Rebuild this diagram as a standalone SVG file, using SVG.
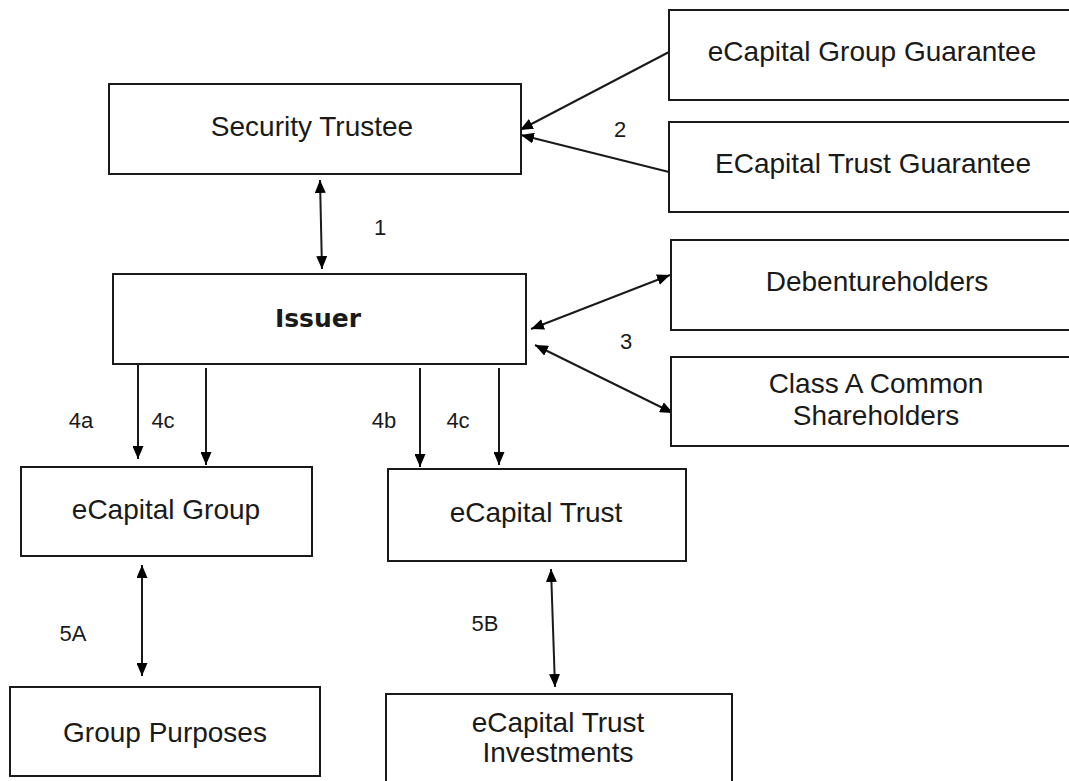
<svg xmlns="http://www.w3.org/2000/svg" width="1069" height="781" viewBox="0 0 1069 781">
<style>
.box{fill:#fff;stroke:#1a1a1a;stroke-width:2}
.t{font-family:"Liberation Sans",Arial,sans-serif;font-size:28px;fill:#1a1a1a;text-anchor:middle}
.b{font-family:"DejaVu Sans",Verdana,sans-serif;font-size:25px;font-weight:bold;fill:#1a1a1a;text-anchor:middle}
.l{font-family:"Liberation Sans",Arial,sans-serif;font-size:22px;fill:#1a1a1a;text-anchor:middle}
.c{stroke:#1a1a1a;stroke-width:2;fill:none}
.e{marker-end:url(#ah)}
.d{marker-start:url(#ah);marker-end:url(#ah)}
</style>
<defs>
<marker id="ah" markerUnits="userSpaceOnUse" markerWidth="13" markerHeight="11" refX="13" refY="5.5" orient="auto-start-reverse" viewBox="0 0 13 11">
<path d="M0,0 L13,5.5 L0,11 z" fill="#000"/>
</marker>
</defs>
<rect width="1069" height="781" fill="#fff"/>
<g id="connectors">
<line class="c d" x1="320" y1="180" x2="322" y2="269"/>
<line class="c e" x1="669" y1="52" x2="520" y2="130"/>
<line class="c e" x1="669" y1="172" x2="521" y2="135"/>
<line class="c d" x1="531" y1="329" x2="670" y2="275"/>
<line class="c d" x1="535" y1="345" x2="673" y2="413"/>
<line class="c e" x1="138" y1="364" x2="138" y2="459"/>
<line class="c e" x1="206" y1="368" x2="206" y2="465"/>
<line class="c e" x1="420" y1="368" x2="420" y2="467"/>
<line class="c e" x1="499" y1="368" x2="499" y2="465"/>
<line class="c d" x1="142" y1="565" x2="142" y2="676"/>
<line class="c d" x1="551" y1="569" x2="555" y2="687"/>
<text class="l" x="380" y="235">1</text>
<text class="l" x="620" y="137">2</text>
<text class="l" x="626" y="349">3</text>
<text class="l" x="81" y="428">4a</text>
<text class="l" x="163" y="428">4c</text>
<text class="l" x="384" y="428">4b</text>
<text class="l" x="458" y="428">4c</text>
<text class="l" x="73" y="641">5A</text>
<text class="l" x="485" y="631">5B</text>
</g>
<g id="security-trustee"><rect class="box" x="109" y="84" width="412" height="90"/><text class="t" x="312" y="136">Security Trustee</text></g>
<g id="group-guarantee"><rect class="box" x="669" y="10" width="410" height="90"/><text class="t" x="872" y="61">eCapital Group Guarantee</text></g>
<g id="trust-guarantee"><rect class="box" x="669" y="122" width="410" height="90"/><text class="t" x="873" y="173">ECapital Trust Guarantee</text></g>
<g id="issuer"><rect class="box" x="113" y="274" width="413" height="90"/><text class="b" x="318" y="327">Issuer</text></g>
<g id="debentureholders"><rect class="box" x="671" y="240" width="408" height="90"/><text class="t" x="877" y="291">Debentureholders</text></g>
<g id="class-a"><rect class="box" x="671" y="357" width="408" height="89"/><text class="t" x="876" y="393">Class A Common</text><text class="t" x="876" y="425">Shareholders</text></g>
<g id="ecapital-group"><rect class="box" x="21" y="467" width="291" height="89"/><text class="t" x="166" y="519">eCapital Group</text></g>
<g id="ecapital-trust"><rect class="box" x="388" y="469" width="298" height="92"/><text class="t" x="536" y="522">eCapital Trust</text></g>
<g id="group-purposes"><rect class="box" x="10" y="687" width="310" height="89"/><text class="t" x="165" y="742">Group Purposes</text></g>
<g id="trust-investments"><rect class="box" x="386" y="694" width="346" height="100"/><text class="t" x="558" y="732">eCapital Trust</text><text class="t" x="558" y="762">Investments</text></g>
</svg>
